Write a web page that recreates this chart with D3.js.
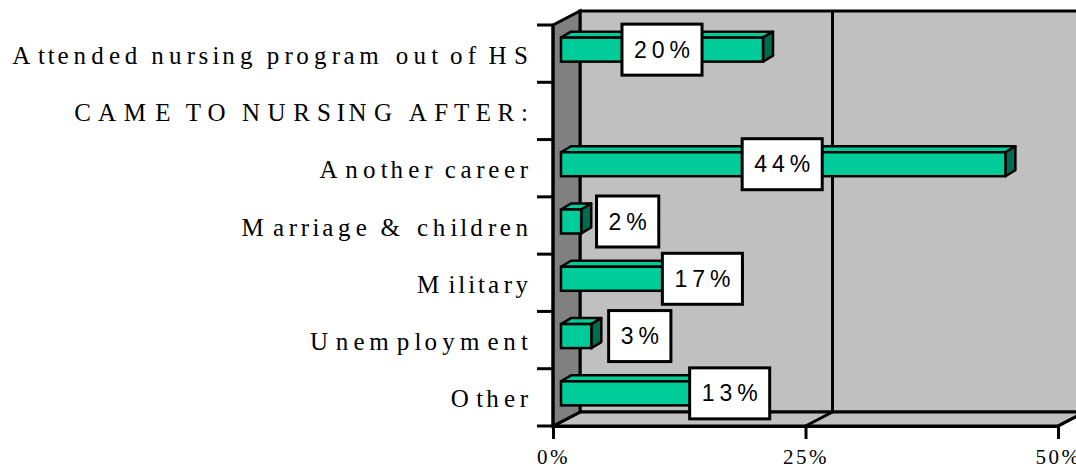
<!DOCTYPE html>
<html>
<head>
<meta charset="utf-8">
<script src="https://cdn.jsdelivr.net/npm/d3@7"></script>
<style>
  html, body { margin: 0; padding: 0; background: #ffffff; }
  svg { display: block; }
</style>
</head>
<body>
<svg id="chart" width="1076" height="469"></svg>
<script>
// ---- data ----
const categories = [
  "Attended nursing program out of HS",
  "CAME TO NURSING AFTER:",
  "Another career",
  "Marriage & children",
  "Military",
  "Unemployment",
  "Other"
];
const values = [20, null, 44, 2, 17, 3, 13];
const valueLabels = ["20%", null, "44%", "2%", "17%", "3%", "13%"];
// where each (manually placed) data label sits, in axis units (%)
const labelAnchors = [10, null, 21.9, 6.6, 14, 7.8, 16.7];
const xTicks = [0, 25, 50];
const xTickLabels = ["0%", "25%", "50%"];

(function () {
// ---- layout ----
const svg = d3.select("#chart");
const pL = 553, pR = 1058, pT = 25, pB = 426;
const DX = 27, DY = -14;           // depth of the 3-D box
const BOX = { x: 8, y: -4 };       // bar front plane inside the box
const BD = { x: 10, y: -6 };       // bar depth
const barH = 24;

const x = d3.scaleLinear().domain([0, 50]).range([pL, pR]);
const y = d3.scaleBand().domain(categories).range([pT, pB]).padding(0);

const g = svg.append("g");

// back wall
g.append("rect")
  .attr("x", x(0) + DX).attr("y", pT + DY)
  .attr("width", x(50) - x(0)).attr("height", pB - pT)
  .attr("fill", "#c0c0c0").attr("stroke", "#000").attr("stroke-width", 3);

// back wall gridlines
g.selectAll("line.grid").data(xTicks.slice(1)).enter().append("line")
  .attr("class", "grid")
  .attr("x1", d => x(d) + DX).attr("x2", d => x(d) + DX)
  .attr("y1", pT + DY).attr("y2", pB + DY)
  .attr("stroke", "#000").attr("stroke-width", 3);

// floor
g.append("path")
  .attr("d", `M${x(0)},${pB} L${x(50)},${pB} L${x(50) + DX},${pB + DY} L${x(0) + DX},${pB + DY} Z`)
  .attr("fill", "#c0c0c0").attr("stroke", "#000").attr("stroke-width", 3).attr("stroke-linejoin", "miter");
g.selectAll("line.floorgrid").data(xTicks).enter().append("line")
  .attr("class", "floorgrid")
  .attr("x1", d => x(d)).attr("x2", d => x(d) + DX)
  .attr("y1", pB).attr("y2", pB + DY)
  .attr("stroke", "#000").attr("stroke-width", 3);

// left wall
g.append("path")
  .attr("d", `M${x(0)},${pT} L${x(0) + DX},${pT + DY} L${x(0) + DX},${pB + DY} L${x(0)},${pB} Z`)
  .attr("fill", "#808080").attr("stroke", "#000").attr("stroke-width", 3).attr("stroke-linejoin", "miter");

// bars
const rows = categories.map((c, i) => ({ c, v: values[i], lab: valueLabels[i], a: labelAnchors[i] }))
  .filter(d => d.v !== null);

const bars = g.selectAll("g.bar").data(rows).enter().append("g").attr("class", "bar");
bars.each(function (d) {
  const cy = y(d.c) + y.bandwidth() / 2 + BOX.y;
  const x0 = x(0) + BOX.x, x1 = x(d.v) + BOX.x;
  const yT = cy - barH / 2, yB = cy + barH / 2;
  const s = d3.select(this);
  s.append("path")
    .attr("d", `M${x0},${yT} L${x1},${yT} L${x1 + BD.x},${yT + BD.y} L${x0 + BD.x},${yT + BD.y} Z`)
    .attr("fill", "#00cc99").attr("stroke", "#000").attr("stroke-width", 2.5).attr("stroke-linejoin", "round");
  s.append("path")
    .attr("d", `M${x1},${yT} L${x1 + BD.x},${yT + BD.y} L${x1 + BD.x},${yB + BD.y} L${x1},${yB} Z`)
    .attr("fill", "#006b4f").attr("stroke", "#000").attr("stroke-width", 2.5).attr("stroke-linejoin", "round");
  s.append("rect")
    .attr("x", x0).attr("y", yT).attr("width", x1 - x0).attr("height", barH)
    .attr("fill", "#00cc99").attr("stroke", "#000").attr("stroke-width", 2.5);
});

// left axis line + ticks
g.append("line")
  .attr("x1", x(0)).attr("x2", x(0)).attr("y1", pT).attr("y2", pB)
  .attr("stroke", "#000").attr("stroke-width", 3);
const bounds = categories.map(c => y(c)).concat([y.range()[1]]);
g.selectAll("line.ytick").data(bounds).enter().append("line")
  .attr("class", "ytick")
  .attr("x1", x(0) - 16).attr("x2", x(0)).attr("y1", d => d).attr("y2", d => d)
  .attr("stroke", "#000").attr("stroke-width", 3);

// category labels: glyphs at one size, advances spread as in the original
const FS = 25, AS = 35.5, END = 528;
const ctx = document.createElement("canvas").getContext("2d");
function positions(str) {
  ctx.font = `${AS}px 'Liberation Serif'`;
  const advA = Array.from(str).map(ch => ctx.measureText(ch).width);
  ctx.font = `${FS}px 'Liberation Serif'`;
  const lastF = ctx.measureText(str[str.length - 1]).width;
  const total = d3.sum(advA.slice(0, -1)) + lastF;
  let px = END - total;
  return advA.map(a => { const p = px; px += a; return p.toFixed(2); });
}
g.selectAll("text.cat").data(categories).enter().append("text")
  .attr("class", "cat")
  .attr("x", d => positions(d).join(" "))
  .attr("y", d => y(d) + y.bandwidth() / 2 + 10)
  .style("font-family", "'Liberation Serif', 'Times New Roman', serif")
  .style("font-size", FS + "px")
  .attr("fill", "#000")
  .text(d => d);

// bottom axis
const xAxis = d3.axisBottom(x).tickValues(xTicks).tickFormat((d, i) => xTickLabels[i]).tickSize(13).tickSizeOuter(0);
const ax = g.append("g").attr("transform", `translate(0,${pB})`).call(xAxis);
ax.select(".domain").attr("stroke", "#000").attr("stroke-width", 3);
ax.selectAll(".tick line").attr("stroke", "#000").attr("stroke-width", 3);
ax.selectAll(".tick text")
  .attr("y", 38).attr("dy", 0)
  .attr("dx", 0)
  .style("font-family", "'Liberation Serif', 'Times New Roman', serif")
  .style("font-size", "21px")
  .style("letter-spacing", "2.5px")
  .attr("fill", "#000");

// value labels (boxes)
const labs = g.selectAll("g.lab").data(rows).enter().append("g").attr("class", "lab");
labs.each(function (d) {
  const cy = y(d.c) + y.bandwidth() / 2 + BOX.y;
  const cx = x(d.a) + BOX.x;
  const s = d3.select(this);
  const r = s.append("rect");
  const t = s.append("text")
    .attr("x", cx + 2.5).attr("y", cy + 8)
    .attr("text-anchor", "middle")
    .style("font-family", "'Liberation Sans', Arial, sans-serif")
    .style("font-size", "23px")
    .style("letter-spacing", "5px")
    .attr("fill", "#000")
    .text(d.lab);
  const bb = t.node().getBBox();
  const w = bb.width - 5 + 24;
  r.attr("x", cx - w / 2).attr("y", cy - 25.5).attr("width", w).attr("height", 51)
    .attr("fill", "#fff").attr("stroke", "#000").attr("stroke-width", 3);
});
})();
</script>
</body>
</html>
